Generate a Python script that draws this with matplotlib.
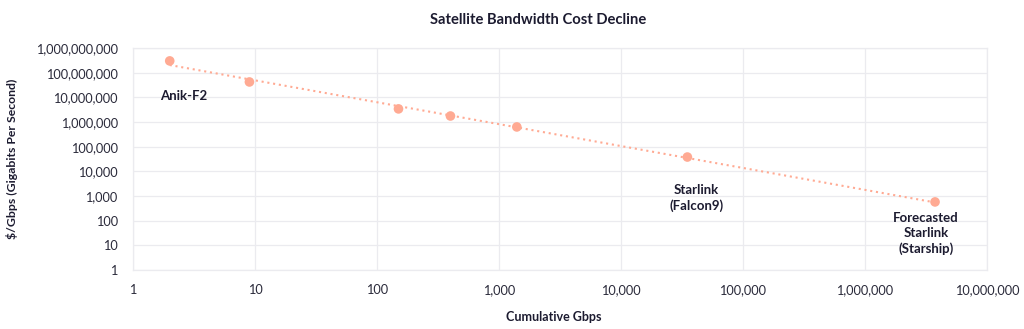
import numpy as np
import matplotlib.pyplot as plt
from matplotlib.ticker import FuncFormatter, LogLocator, NullLocator

# cumulative Gbps vs cost per Gbps
labels = ['Anik-F2', '', '', '', '', 'Starlink\n(Falcon9)', 'Forecasted\nStarlink\n(Starship)']
gbps = [2, 9, 150, 400, 1400, 35000, 3750000]
cost = [300000000, 42000000, 3400000, 1750000, 630000, 38000, 575]

dot_col = '#ffaa93'
txt_col = '#1c1b30'

plt.rcParams['font.family'] = ['Lato', 'DejaVu Sans']

fig = plt.figure(figsize=(10.24, 3.29), dpi=100)
ax = fig.add_axes([133/1024, 1-270/329, (987-133)/1024, (270-48)/329])

# power-law trendline between first and last point
lx = np.log10(gbps)
ly = np.log10(cost)
k, b = np.polyfit(lx, ly, 1)
xs = np.linspace(lx[0], lx[-1], 50)
ax.plot(10**xs, 10**(k*xs + b), linestyle=(0, (1, 1.8)), color=dot_col, lw=1.5, zorder=2)
ax.scatter(gbps, cost, s=48, color=dot_col, zorder=3, edgecolors='none')

ax.set_xscale('log')
ax.set_yscale('log')
ax.set_xlim(1, 1e7)
ax.set_ylim(1, 1e9)
ax.xaxis.set_major_locator(LogLocator(base=10, numticks=20))
ax.yaxis.set_major_locator(LogLocator(base=10, numticks=20))
ax.xaxis.set_minor_locator(NullLocator())
ax.yaxis.set_minor_locator(NullLocator())
fmt = FuncFormatter(lambda v, p: f'{int(round(v)):,}')
ax.xaxis.set_major_formatter(fmt)
ax.yaxis.set_major_formatter(fmt)

ax.grid(True, color='#ebebef', lw=0.9)
ax.set_axisbelow(True)
for s in ax.spines.values():
    s.set_color('#ebebef')
    s.set_linewidth(0.9)
ax.tick_params(length=0, labelsize=9.2, labelcolor='#2a2a3a')
ax.tick_params(axis='y', pad=11)
ax.tick_params(axis='x', pad=10)

offs = {0: (10, -25), 5: (6.5, -29.5), 6: (-6.5, -22.5)}
for i, o in offs.items():
    ax.annotate(labels[i], (gbps[i], cost[i]), xytext=o, textcoords='offset points',
                ha='center', va='center', fontsize=9.5, fontweight='bold',
                color=txt_col, linespacing=1.3)

fig.text(538/1024, 1-20/329, 'Satellite Bandwidth Cost Decline', ha='center', va='center',
         fontsize=10.6, fontweight='bold', color=txt_col)
fig.text(12/1024, 1-159/329, '$/Gbps (Gigabits Per Second)', rotation=90, ha='center',
         va='center', fontsize=8.8, fontweight='bold', color=txt_col)
fig.text(554/1024, 1-317/329, 'Cumulative Gbps', ha='center', va='center',
         fontsize=9, fontweight='bold', color=txt_col)

fig.savefig('out.png', dpi=100, facecolor='white')
